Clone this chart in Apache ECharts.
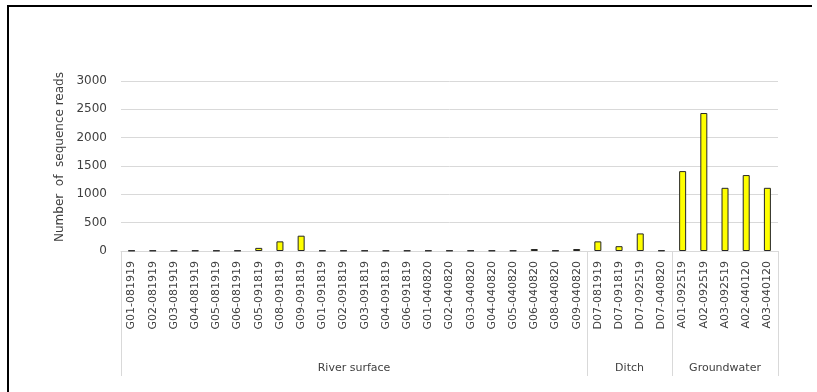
<!DOCTYPE html>
<html>
<head>
<meta charset="utf-8">
<script src="https://cdn.jsdelivr.net/npm/echarts@6/dist/echarts.min.js"></script>
<style>
html,body{margin:0;padding:0;background:#fff;}
#chart{width:817px;height:392px;}
</style>
</head>
<body>
<div id="chart"></div>
<script>
const categories = [
  'G01-081919','G02-081919','G03-081919','G04-081919','G05-081919','G06-081919',
  'G05-091819','G08-091819','G09-091819',
  'G01-091819','G02-091819','G03-091819','G04-091819','G06-091819',
  'G01-040820','G02-040820','G03-040820','G04-040820','G05-040820','G06-040820','G08-040820','G09-040820',
  'D07-081919','D07-091819','D07-092519','D07-040820',
  'A01-092519','A02-092519','A03-092519','A02-040120','A03-040120'
];
const reads = [
  8,8,8,8,8,8,
  55,170,270,
  8,8,8,8,8,
  8,8,8,8,8,35,8,35,
  170,85,310,10,
  1410,2435,1115,1340,1115
];
const groupNames = ['River surface','Ditch','Groundwater'];
const groupSizes = [22,4,5];
const yTicks = [0,500,1000,1500,2000,2500,3000];

const groupStarts = [];
let acc = 0;
groupSizes.forEach(n => { groupStarts.push(acc); acc += n; });
const boundaryIdx = new Set(groupStarts);
const groupLabelAt = {};
groupNames.forEach((name, k) => {
  const mid = groupStarts[k] + (groupSizes[k] - 1) / 2;
  const idx = Math.floor(mid);
  groupLabelAt[idx] = {name: name, half: mid !== idx};
});

const chart = echarts.init(document.getElementById('chart'), null, {renderer:'canvas'});
const font = 'DejaVu Sans';
const gridLeft = 121, gridRight = 39;
const catW = (817 - gridLeft - gridRight) / categories.length;
chart.setOption({
  animation:false,
  backgroundColor:'#fff',
  graphic:[{
    type:'polyline', silent:true,
    shape:{points:[[8,400],[8,6],[812,6]]},
    style:{stroke:'#000', lineWidth:2, fill:null}
  }],
  grid:{left:gridLeft, right:gridRight, top:81, bottom:141, containLabel:false},
  xAxis:[{
    type:'category', data:categories, gridIndex:0, position:'bottom',
    axisLine:{show:true, lineStyle:{color:'#d9d9d9', width:1}},
    axisTick:{show:true, length:125, lineStyle:{color:'#d9d9d9'},
      interval:(i) => boundaryIdx.has(i)},
    axisLabel:{interval:0, rotate:90, margin:10, fontFamily:font, fontSize:11, color:'#404040'},
    splitLine:{show:false}
  },{
    type:'category', data:categories, gridIndex:0, position:'bottom', offset:104,
    axisLine:{show:false}, axisTick:{show:false},
    axisLabel:{
      interval:(i) => groupLabelAt[i] !== undefined,
      formatter:(v, i) => {
        const g = groupLabelAt[i];
        if (!g) return '';
        return g.half ? '{h|' + g.name + '}' : g.name;
      },
      rich:{h:{fontFamily:font, fontSize:11, color:'#404040', padding:[0,0,0,Math.round(catW)]}},
      fontFamily:font, fontSize:11, color:'#404040'
    }
  }],
  yAxis:{
    type:'value', min:0, max:3000, interval:500,
    name:'Number  of  sequence reads', nameLocation:'middle', nameGap:53,
    nameTextStyle:{fontFamily:font, fontSize:12, color:'#404040', padding:[0,0,0,18]},
    axisLine:{show:false}, axisTick:{show:false},
    axisLabel:{margin:14, fontFamily:font, fontSize:12, color:'#404040',
      formatter:(v) => yTicks.includes(v) ? String(v) : ''},
    splitLine:{lineStyle:{color:'#d9d9d9', width:1}}
  },
  series:[{
    type:'bar', xAxisIndex:0, data:reads, barWidth:7,
    itemStyle:{color:'#ffff00', borderColor:'#262626', borderWidth:1}
  },{
    type:'bar', xAxisIndex:1, data:[], silent:true
  }]
});
</script>
</body>
</html>
